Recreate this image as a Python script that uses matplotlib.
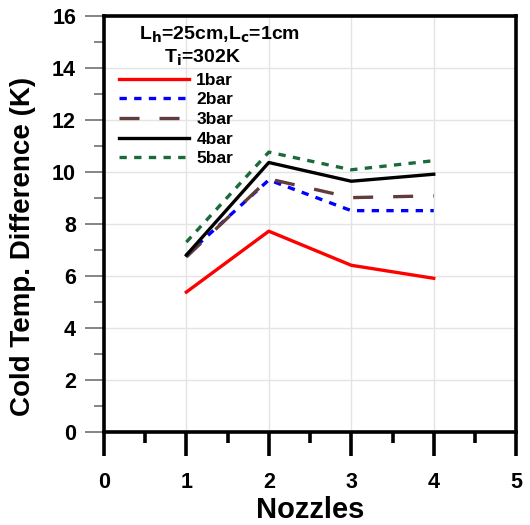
import numpy as np
import matplotlib
matplotlib.use('Agg')
import matplotlib.pyplot as plt
from matplotlib.ticker import MultipleLocator

plt.rcParams['font.family'] = ['Liberation Sans', 'DejaVu Sans']
plt.rcParams['font.weight'] = 'bold'
plt.rcParams['mathtext.default'] = 'bf'

nozzles = [1, 2, 3, 4]
bar1 = [5.38, 7.72, 6.41, 5.91]
bar2 = [6.80, 9.69, 8.51, 8.51]
bar3 = [6.73, 9.73, 9.01, 9.08]
bar4 = [6.80, 10.36, 9.64, 9.91]
bar5 = [7.30, 10.76, 10.08, 10.43]
labels = ['1bar', '2bar', '3bar', '4bar', '5bar']

styles = [
    dict(color='#ff0000', ls='-'),
    dict(color='#0000ff', ls=(0, (2.2, 2.2))),
    dict(color='#603c3c', ls=(0, (6, 6))),
    dict(color='#000000', ls='-'),
    dict(color='#1b6b3a', ls=(0, (2.2, 2.2))),
]

fig = plt.figure(figsize=(5.3, 5.25), dpi=100)
ax = fig.add_axes([0.196, 0.177, 0.778, 0.793])

for ys, lab, st in zip([bar1, bar2, bar3, bar4, bar5], labels, styles):
    ax.plot(nozzles, ys, lw=2.4, label=lab, **st)

ax.set_xlim(0, 5)
ax.set_ylim(0, 16)
ax.xaxis.set_major_locator(MultipleLocator(1))
ax.xaxis.set_minor_locator(MultipleLocator(0.5))
ax.yaxis.set_major_locator(MultipleLocator(2))
ax.yaxis.set_minor_locator(MultipleLocator(1))
ax.grid(True, which='major', color='#e4e4e4', lw=1)
ax.set_axisbelow(True)

for sp in ax.spines.values():
    sp.set_linewidth(2.6)

ax.tick_params(axis='x', which='major', direction='out', length=17, width=2.6,
               color='black', labelsize=15.5, pad=12)
ax.tick_params(axis='x', which='minor', direction='out', length=8, width=2.6, color='black')
ax.tick_params(axis='y', which='major', direction='out', length=14, width=1.2,
               color='#707070', labelsize=15.5, pad=6)
ax.tick_params(axis='y', which='minor', direction='out', length=7, width=1.2, color='#707070')
for t in ax.get_xticklabels() + ax.get_yticklabels():
    t.set_fontweight('bold')

ax.set_xlabel('Nozzles', fontsize=21, fontweight='bold', labelpad=2)
ax.set_ylabel('Cold Temp. Difference (K)', fontsize=20, fontweight='bold')
ax.yaxis.set_label_coords(-0.165, 0.447)

ax.text(0.28, 0.953, r'L$_\mathbf{h}$=25cm,L$_\mathbf{c}$=1cm', transform=ax.transAxes,
        ha='center', va='center', fontsize=14, fontweight='bold')
ax.text(0.24, 0.9, r'T$_\mathbf{i}$=302K', transform=ax.transAxes,
        ha='center', va='center', fontsize=14, fontweight='bold')

leg = ax.legend(loc='upper left', bbox_to_anchor=(0.02, 0.88), frameon=False,
                fontsize=12.5, handlelength=4.0, handletextpad=0.45,
                labelspacing=0.26, borderaxespad=0)
for t in leg.get_texts():
    t.set_fontweight('bold')

fig.savefig('out.png', dpi=100)
